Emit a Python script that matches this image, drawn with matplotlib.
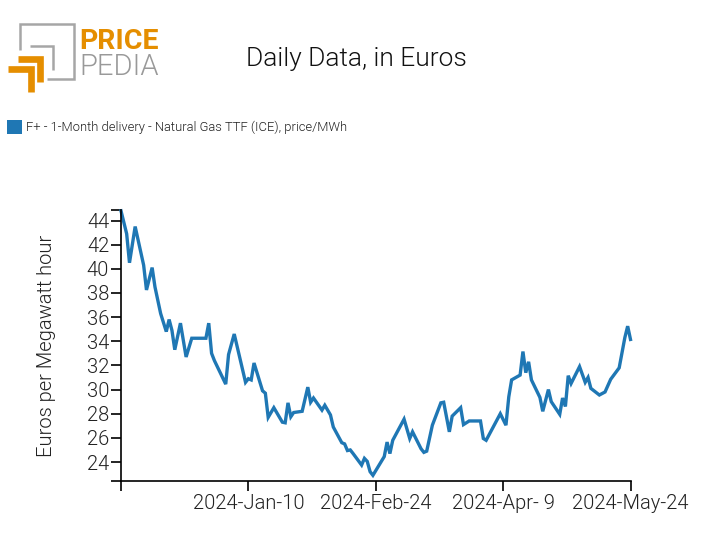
import matplotlib
matplotlib.use('Agg')

from matplotlib import pyplot as plt
from matplotlib.patches import Rectangle

# days since 2023-11-26
days = [0, 2, 3, 5, 8, 9, 11, 12, 14, 16, 17, 18, 19, 21, 23, 25, 30, 31, 32, 33, 37, 38, 40, 44, 45, 46, 47,
        50, 51, 52, 54, 57, 58, 59, 60, 61, 64, 66, 67, 68, 71, 72, 74, 75, 78, 79, 80, 81, 82, 85, 86, 87, 88, 89,
        93, 94, 95, 96, 100, 102, 103, 106, 107, 108, 110, 113, 114, 116, 117, 120, 121, 123, 127, 128, 129,
        134, 136, 137, 138, 141, 142, 143, 144, 145, 148, 149, 151, 152, 155, 156, 157, 158, 159,
        162, 164, 165, 166, 169, 171, 173, 176, 178, 179, 180]
price = [44.8, 42.9, 40.5, 43.5, 40.3, 38.25, 40.1, 38.5, 36.3, 34.8, 35.8, 34.9, 33.3, 35.5, 32.7, 34.25, 34.25,
         35.5, 33.0, 32.4, 30.45, 32.9, 34.6, 30.6, 30.9, 30.8, 32.2,
         29.9, 29.7, 27.7, 28.5, 27.3, 27.25, 28.9, 27.75, 28.1, 28.2, 30.2, 28.95, 29.3, 28.3, 28.7, 27.9, 26.9,
         25.6, 25.5, 24.95, 25.0, 24.7, 23.75, 24.3, 24.05, 23.2, 22.9,
         24.45, 25.65, 24.7, 25.8, 27.55, 25.95, 26.5, 25.1, 24.8, 24.9, 27.05, 28.9, 28.95, 26.5, 27.8, 28.5, 27.1,
         27.4, 27.4, 25.95, 25.8,
         28.0, 27.05, 29.4, 30.8, 31.2, 33.15, 31.4, 32.3, 30.8, 29.35, 28.2, 30.0, 29.0, 27.95, 29.3, 28.6, 31.15,
         30.5, 31.9, 30.6, 31.0, 30.1, 29.55, 29.8, 30.85, 31.8, 34.3, 35.25, 34.15]

x_ticks = [0, 45, 90, 135, 180]
x_labels = ['', '2024-Jan-10', '2024-Feb-24', '2024-Apr- 9', '2024-May-24']
y_ticks = [24, 26, 28, 30, 32, 34, 36, 38, 40, 42, 44]

title = 'Daily Data, in Euros'
series_name = 'F+ - 1-Month delivery - Natural Gas TTF (ICE), price/MWh'
y_title = 'Euros per Megawatt hour'

BLUE = '#1f77b4'
ORANGE = '#e58e00'
GRAY = '#a6a6a6'
INK = '#222222'

W, H = 712, 555
plt.rcParams['font.family'] = ['Roboto', 'DejaVu Sans']
plt.rcParams['font.weight'] = 300

fig = plt.figure(figsize=(W / 100, H / 100), dpi=100)

# plot area in pixels
left, right, top, bottom = 121, 630.5, 210, 480.5
ax = fig.add_axes([left / W, 1 - bottom / H, (right - left) / W, (bottom - top) / H])
ax.plot(days, price, color=BLUE, lw=2.4, solid_joinstyle='miter', clip_on=False)
ax.set_xlim(0, 180)
ax.set_ylim(22.47, 44.87)

ax.spines['top'].set_visible(False)
ax.spines['right'].set_visible(False)
ax.spines['left'].set_linewidth(1.2)
ax.spines['bottom'].set_linewidth(1.2)

ax.set_xticks(x_ticks)
ax.set_xticklabels(x_labels)
ax.set_yticks(y_ticks)
# d3 style outer ticks at both ends of the y axis
ax.set_yticks(ax.get_ylim(), minor=True)
ax.tick_params(axis='both', which='both', length=7, width=1.2, color='black')
ax.tick_params(axis='x', labelsize=14.5, labelcolor=INK, pad=2.5)
ax.tick_params(axis='y', labelsize=14.5, labelcolor=INK, pad=1.5)

# overlay in pixel coordinates for title, legend and logo
ov = fig.add_axes([0, 0, 1, 1])
ov.set_xlim(0, W)
ov.set_ylim(H, 0)
ov.axis('off')
ov.patch.set_alpha(0)

ov.text(356, 59, title, fontsize=19, ha='center', va='center', color='#111111')
ov.add_patch(Rectangle((7, 120), 15, 14, color=BLUE, lw=0))
ov.text(26, 127.5, series_name, fontsize=9.4, ha='left', va='center', color=INK)
ov.text(47, 346, y_title, fontsize=14.5, rotation=90, ha='center', va='center', color=INK)

# logo
ov.plot([20, 20, 74, 74, 47], [50, 24, 24, 79, 79], color=GRAY, lw=1.8,
        solid_joinstyle='miter', solid_capstyle='butt')
ov.plot([30, 53, 53], [46, 46, 70], color=GRAY, lw=1.8, solid_joinstyle='miter', solid_capstyle='butt')
ov.plot([18, 40, 40], [59, 59, 82], color=ORANGE, lw=4.8, solid_joinstyle='miter', solid_capstyle='butt')
ov.plot([8, 31, 31], [69, 69, 92], color=ORANGE, lw=4.8, solid_joinstyle='miter', solid_capstyle='butt')
ov.text(79, 49, 'PRICE', fontsize=20.5, fontweight='bold', color=ORANGE, ha='left', va='baseline')
ov.text(79, 75, 'PEDIA', fontsize=21, fontweight=300, color='#999999', ha='left', va='baseline')

fig.savefig('out.png', dpi=100)
